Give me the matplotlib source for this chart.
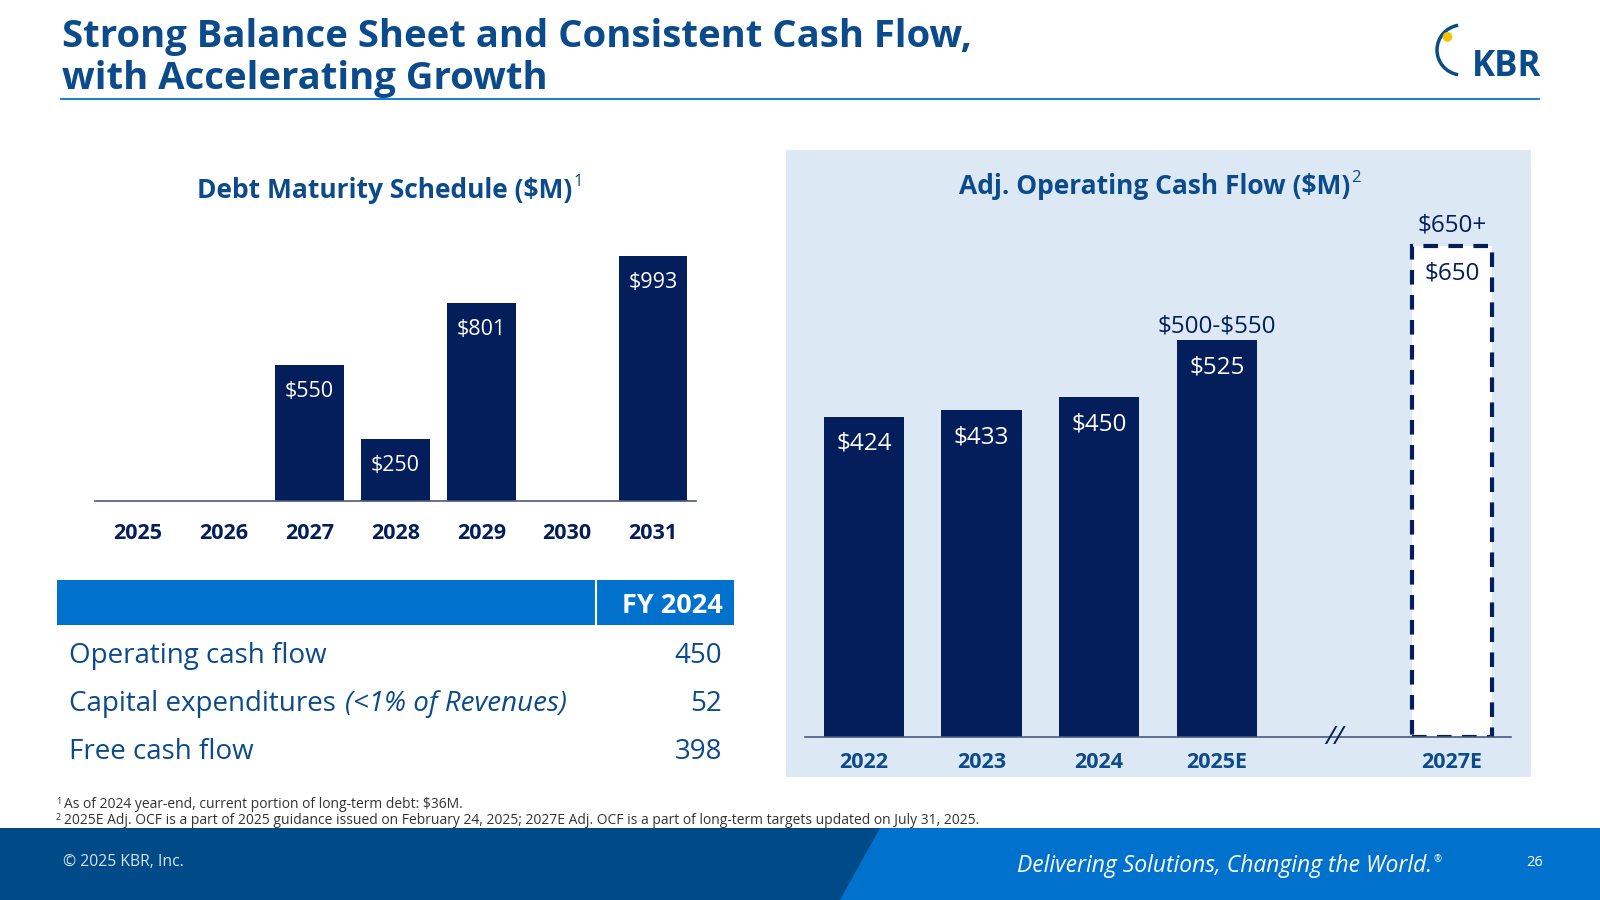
import matplotlib.pyplot as plt
from matplotlib.patches import Rectangle, Polygon, Arc

plt.rcParams['font.family'] = ['Open Sans', 'DejaVu Sans']

# data
debt_years = ["2025", "2026", "2027", "2028", "2029", "2030", "2031"]
debt_values = [0, 0, 550, 250, 801, 0, 993]

ocf_years = ["2022", "2023", "2024", "2025E", "", "2027E"]
ocf_values = [424, 433, 450, 525, None, 650]
ocf_labels = ["$424", "$433", "$450", "$525", "", "$650"]
ocf_top_labels = ["", "", "", "$500-$550", "", "$650+"]

table_rows = ["Operating cash flow", "Capital expenditures ", "Free cash flow"]
table_values = ["450", "52", "398"]

NAVY = "#031E5A"
TITLE = "#0B4A8B"
BLUE = "#0072CE"
DARK = "#004B87"
PANEL = "#DCE8F4"

W, H = 1600, 900
fig = plt.figure(figsize=(16, 9), dpi=100)
rend = fig.canvas.get_renderer()


def fx(x):
    return x / W


def fy(y):
    return 1 - y / H


def txt(x, y, s, **kw):
    kw.setdefault("va", "center")
    return fig.text(fx(x), fy(y), s, **kw)


def right_edge(t):
    return t.get_window_extent(rend).x1


# header
txt(62, 37, "Strong Balance Sheet and Consistent Cash Flow,", fontsize=27.5,
    fontweight="bold", color=TITLE)
txt(62, 79, "with Accelerating Growth", fontsize=27.5, fontweight="bold", color=TITLE)
fig.add_artist(plt.Line2D([fx(61), fx(1539)], [fy(99), fy(99)], color=BLUE, lw=1.3))
txt(1541, 67, "KBR", fontsize=25, fontweight="bold", color=TITLE, ha="right")
fig.add_artist(Arc((fx(1462), fy(50)), fx(50), 50 / H, theta1=95, theta2=265,
                   transform=fig.transFigure, color=TITLE, lw=2.5))
txt(1447, 36, "●", fontsize=9, color="#F5C400", ha="center")

# left chart: debt maturity
axL = fig.add_axes([fx(95), fy(501), fx(696) - fx(95), 0.3016])
xl = range(len(debt_years))
axL.bar(xl, debt_values, width=0.8, color=NAVY)
for i, v in enumerate(debt_values):
    if v > 0:
        axL.text(i, v - 108, "\\$%d" % v, ha="center", va="center",
                 color="white", fontsize=15.5)
axL.set_xlim(-0.5, len(debt_years) - 0.5)
axL.set_ylim(0, 1100)
axL.set_xticks(list(xl))
axL.set_xticklabels(debt_years, fontsize=15.5, fontweight="bold", color=NAVY)
axL.tick_params(axis="x", length=0, pad=16)
axL.set_yticks([])
for s in ["top", "right", "left"]:
    axL.spines[s].set_visible(False)
axL.spines["bottom"].set_color("#4A5A7A")
axL.spines["bottom"].set_linewidth(1.2)
t = txt(385, 190, "Debt Maturity Schedule (\\$M)", fontsize=19, fontweight="bold",
        color=TITLE, ha="center")
txt(right_edge(t) + 1, 182, "1", fontsize=12, color=TITLE)

# table
fig.add_artist(Rectangle((fx(57), fy(625)), fx(734) - fx(57), fy(580) - fy(625),
                         transform=fig.transFigure, color=BLUE, lw=0))
fig.add_artist(plt.Line2D([fx(596), fx(596)], [fy(580), fy(625)], color="white", lw=1.5))
txt(723, 606, "FY 2024", fontsize=19.5, fontweight="bold", color="white", ha="right")
row_y = [656, 704, 752]
for lab, val, y in zip(table_rows, table_values, row_y):
    t = txt(69, y, lab, fontsize=20, color=TITLE)
    txt(722, y, val, fontsize=20, color=TITLE, ha="right")
    if lab.startswith("Capital"):
        txt(right_edge(t) + 2, y, "(<1% of Revenues)", fontsize=20, color=TITLE,
            style="italic")

# right panel
fig.add_artist(Rectangle((fx(786), fy(777)), fx(1531) - fx(786), fy(150) - fy(777),
                         transform=fig.transFigure, color=PANEL, lw=0, zorder=0))
axR = fig.add_axes([fx(805), fy(737), fx(1511) - fx(805), 574 / H])
axR.patch.set_alpha(0)
xr = list(range(len(ocf_years)))
solid_x = [i for i in xr if ocf_values[i] is not None and not ocf_years[i].startswith("2027")]
axR.bar(solid_x, [ocf_values[i] for i in solid_x], width=0.68, color=NAVY)
axR.bar([5], [ocf_values[5]], width=0.68, color="white", edgecolor=NAVY,
        linestyle=(0, (3.5, 2.5)), linewidth=3)
for i in xr:
    v = ocf_values[i]
    if v is None:
        continue
    c = "white" if i in solid_x else NAVY
    axR.text(i, v - 36, ocf_labels[i].replace("$", "\\$"), ha="center", va="center",
             color=c, fontsize=17.5)
    if ocf_top_labels[i]:
        off = 10 if i in solid_x else 15
        axR.annotate(ocf_top_labels[i].replace("$", "\\$"), (i, v), xytext=(0, off),
                     textcoords="offset points", ha="center", va="center",
                     color=NAVY, fontsize=17.5)
axR.text(4, 0, "//", ha="center", va="center", fontsize=19, color=NAVY,
         style="italic")
axR.set_xlim(-0.5, 5.5)
axR.set_ylim(0, 760)
axR.set_xticks(xr)
axR.set_xticklabels(ocf_years, fontsize=15.5, fontweight="bold", color=TITLE)
axR.tick_params(axis="x", length=0, pad=11)
axR.set_yticks([])
for s in ["top", "right", "left"]:
    axR.spines[s].set_visible(False)
axR.spines["bottom"].set_color("#4A5A7A")
axR.spines["bottom"].set_linewidth(1.2)
t = txt(1155, 187, "Adj. Operating Cash Flow (\\$M)", fontsize=19, fontweight="bold",
        color=TITLE, ha="center")
txt(right_edge(t) + 1, 178, "2", fontsize=12, color=TITLE)

# footnotes
for y, num, note in [
        (805, "1", "As of 2024 year-end, current portion of long-term debt: \\$36M."),
        (820, "2", "2025E Adj. OCF is a part of 2025 guidance issued on February 24, 2025; "
                   "2027E Adj. OCF is a part of long-term targets updated on July 31, 2025.")]:
    txt(56, y - 3, num, fontsize=6.5, color="#333333")
    txt(64, y, note, fontsize=10, color="#333333")

# footer
fig.add_artist(Rectangle((0, 0), 1, fy(828), transform=fig.transFigure,
                         color=DARK, lw=0))
fig.add_artist(Polygon([(fx(880), fy(828)), (1, fy(828)), (1, 0), (fx(840), 0)],
                       closed=True, transform=fig.transFigure, color=BLUE, lw=0))
txt(63, 862, "© 2025 KBR, Inc.", fontsize=11.3, color="#D8E4F0")
t = txt(1432, 866, "Delivering Solutions, Changing the World.", fontsize=16.5,
        color="white", style="italic", ha="right")
txt(right_edge(t) + 1, 860, "®", fontsize=7, color="white")
txt(1535, 862, "26", fontsize=10.5, color="white", ha="center")

fig.savefig("out.png", dpi=100)
